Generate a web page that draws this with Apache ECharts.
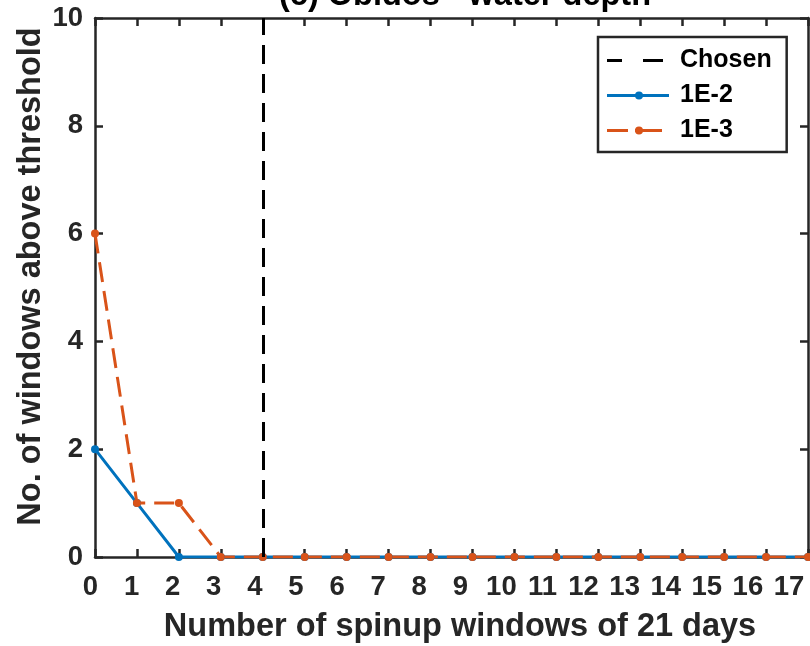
<!DOCTYPE html>
<html><head><meta charset="utf-8">
<script src="https://cdn.jsdelivr.net/npm/echarts@6/dist/echarts.min.js"></script>
<style>html,body{margin:0;padding:0;background:#fff}#c{width:810px;height:646px}</style>
</head><body><div id="c"></div>
<script>
const xValues = [0,1,2,3,4,5,6,7,8,9,10,11,12,13,14,15,16,17];
const series1E2 = [2,1,0,0,0,0,0,0,0,0,0,0,0,0,0,0,0,0];
const series1E3 = [6,1,1,0,0,0,0,0,0,0,0,0,0,0,0,0,0,0];
const chosenX = 4;
const titleText = '(c) Obidos - water depth';
const xLabel = 'Number of spinup windows of 21 days';
const yLabel = 'No. of windows above threshold';
const legendNames = ['Chosen','1E-2','1E-3'];

const F = 'Liberation Sans, Arial, Helvetica, sans-serif';
const AX = '#262626';
const BLUE = '#0072BD', ORANGE = '#D95319';
const pair = arr => xValues.map((x,i)=>[x,arr[i]]);
const axBase = {
  axisLine:{show:true,onZero:false,lineStyle:{color:AX,width:2.5}},
  axisTick:{show:true,inside:true,length:8,lineStyle:{color:AX,width:2.5}},
  splitLine:{show:false}
};
// legend icons (68x10 box; tiny corner marks fix the box size)
const box = 'M0,0h0.01v0.01h-0.01z M68,10h-0.01v-0.01h0.01z ';
const dot = 'M28,5a4,4 0 1,1 8,0a4,4 0 1,1 -8,0z';
const icons = {
  'Chosen': 'path://' + box + 'M0,3.5h15v3h-15z M36,3.5h20v3h-20z',
  '1E-2': 'path://' + box + 'M0,3.6h62v2.8h-62z ' + dot,
  '1E-3': 'path://' + box + 'M0,3.6h21v2.8h-21z M28,3.6h27v2.8h-27z ' + dot
};
const xMin = xValues[0], xMax = xValues[xValues.length-1];
const chart = echarts.init(document.getElementById('c'));
chart.setOption({
  animation:false,
  backgroundColor:'#fff',
  title:{text:titleText,left:460,textAlign:'center',top:-25,
    textStyle:{fontFamily:F,fontWeight:'bold',fontSize:32.5,color:'#000'}},
  grid:[
    {left:95,right:2,top:18,bottom:89,containLabel:false,outerBoundsMode:'none'},
    {left:90.5,right:21,top:18,bottom:89,containLabel:false,outerBoundsMode:'none'}
  ],
  legend:{left:598,top:37,orient:'vertical',itemWidth:68,itemHeight:10,itemGap:10,
    padding:[11,15,9,9],borderColor:AX,borderWidth:2.5,backgroundColor:'#fff',
    textStyle:{fontFamily:F,fontWeight:'bold',fontSize:25,lineHeight:25,color:'#000'},
    data:legendNames.map(n=>({name:n,icon:icons[n]}))},
  xAxis:[
    Object.assign({type:'value',gridIndex:0,min:xMin,max:xMax,interval:1,position:'bottom',
      name:xLabel,nameLocation:'middle',nameGap:54,nameMoveOverlap:false,
      nameTextStyle:{fontFamily:F,fontWeight:'bold',fontSize:32.5,color:AX,padding:[0,0,0,17]},
      axisLabel:{show:false}},axBase),
    Object.assign({type:'value',gridIndex:0,min:xMin,max:xMax,interval:1,position:'top',
      axisLabel:{show:false}},axBase),
    {type:'value',gridIndex:1,min:xMin,max:xMax,interval:1,position:'bottom',
      axisLine:{show:false},axisTick:{show:false},splitLine:{show:false},
      axisLabel:{fontFamily:F,fontWeight:'bold',fontSize:27.5,color:AX,margin:16}}
  ],
  yAxis:[
    Object.assign({type:'value',gridIndex:0,min:0,max:10,interval:2,position:'left',
      name:yLabel,nameLocation:'middle',nameGap:47,nameMoveOverlap:false,
      nameTextStyle:{fontFamily:F,fontWeight:'bold',fontSize:32.5,color:AX,padding:[0,0,0,22]},
      axisLabel:{fontFamily:F,fontWeight:'bold',fontSize:27.5,color:AX,margin:12}},axBase),
    Object.assign({type:'value',gridIndex:0,min:0,max:10,interval:2,position:'right',
      axisLabel:{show:false}},axBase),
    {type:'value',gridIndex:1,min:0,max:10,show:false}
  ],
  series:[
    {name:'Chosen',type:'line',data:[],symbol:'none',
      lineStyle:{color:'#000',width:3,type:[19,10]},itemStyle:{color:'#000'},
      markLine:{silent:true,symbol:'none',label:{show:false},
        lineStyle:{color:'#000',width:3,type:[19,10]},
        data:[{xAxis:chosenX}]}},
    {name:'1E-2',type:'line',data:pair(series1E2),symbol:'circle',symbolSize:8,
      lineStyle:{color:BLUE,width:3},itemStyle:{color:BLUE}},
    {name:'1E-3',type:'line',data:pair(series1E3),symbol:'circle',symbolSize:8,
      lineStyle:{color:ORANGE,width:3,type:[20,9]},itemStyle:{color:ORANGE}}
  ]
});
</script></body></html>
